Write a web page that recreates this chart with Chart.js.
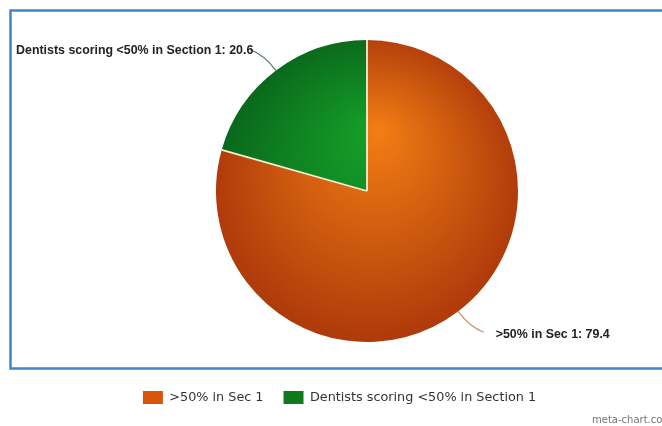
<!DOCTYPE html>
<html>
<head>
<meta charset="utf-8">
<script src="https://cdn.jsdelivr.net/npm/chart.js@4.4.1/dist/chart.umd.min.js"></script>
<style>
  html, body { margin: 0; padding: 0; background: #fff; }
  #wrap { position: relative; width: 662px; height: 426px; }
</style>
</head>
<body>
<div id="wrap"><canvas id="pieChart"></canvas></div>
<script>
// Chart data
const categories = ['>50% in Sec 1', 'Dentists scoring <50% in Section 1'];
const values = [79.4, 20.6];
const sliceLabels = ['>50% in Sec 1: 79.4', 'Dentists scoring <50% in Section 1: 20.6'];

// inner / outer gradient colour per slice
const gradientStops = [
    ['#f27e14', '#a9340a'],
    ['#16a228', '#08601a']
];
const legendColors = ['#d8560c', '#0d7a1b'];
const leaderColors = ['#c98f6c', '#4f7358'];

function sliceColor(ctx) {
    const chart = ctx.chart;
    const area = chart.chartArea;
    const i = ctx.dataIndex;
    if (!area) return legendColors[i];
    const cx = (area.left + area.right) / 2;
    const cy = (area.top + area.bottom) / 2;
    const r = Math.min(area.right - area.left, area.bottom - area.top) / 2;
    const g = chart.ctx.createRadialGradient(cx + 12, cy - 62, 0, cx, cy, r * 1.12);
    g.addColorStop(0, gradientStops[i][0]);
    g.addColorStop(1, gradientStops[i][1]);
    return g;
}

// frame, slice separators, leader lines and outside labels
const decorPlugin = {
    id: 'decor',
    beforeDraw(chart) {
        const c = chart.ctx;
        c.save();
        c.strokeStyle = '#3f86c8';
        c.lineWidth = 2.5;
        c.strokeRect(10.5, 10.5, 680, 358);
        c.restore();
    },
    afterDatasetsDraw(chart) {
        const c = chart.ctx;
        const meta = chart.getDatasetMeta(0);
        c.save();
        // separators between slices only (no outline round the pie)
        c.strokeStyle = '#f3efd6';
        c.lineWidth = 1.8;
        meta.data.forEach(arc => {
            const p = arc.getProps(['x', 'y', 'startAngle', 'outerRadius'], true);
            c.beginPath();
            c.moveTo(p.x, p.y);
            c.lineTo(p.x + Math.cos(p.startAngle) * p.outerRadius, p.y + Math.sin(p.startAngle) * p.outerRadius);
            c.stroke();
        });

        c.font = 'bold 12.4px "Liberation Sans", Arial, sans-serif';
        c.fillStyle = '#222';
        c.textBaseline = 'middle';
        meta.data.forEach((arc, i) => {
            const p = arc.getProps(['x', 'y', 'startAngle', 'endAngle', 'outerRadius'], true);
            const mid = (p.startAngle + p.endAngle) / 2;
            const ux = Math.cos(mid), uy = Math.sin(mid);
            const side = ux >= 0 ? 1 : -1;
            const x0 = p.x + ux * p.outerRadius, y0 = p.y + uy * p.outerRadius;
            const x1 = x0 + ux * 20, y1 = y0 + uy * 20;
            const x2 = x0 + ux * 26 + side * 10, y2 = y0 + uy * 26;
            c.strokeStyle = leaderColors[i];
            c.lineWidth = 1.2;
            c.beginPath();
            c.moveTo(x0, y0);
            c.quadraticCurveTo(x1, y1, x2, y2);
            c.stroke();
            if (side > 0) {
                c.textAlign = 'left';
                c.fillText(sliceLabels[i], x2 + 12, y2 + 2);
            } else {
                c.textAlign = 'right';
                c.fillText(sliceLabels[i], x2 + 3, y2 + 1);
            }
        });
        // watermark
        c.font = '10px "DejaVu Sans", sans-serif';
        c.fillStyle = '#777';
        c.textAlign = 'left';
        c.fillText('meta-chart.com', 592, 420);
        c.restore();
    }
};

document.addEventListener('DOMContentLoaded', function() {
    const ctx = document.getElementById('pieChart').getContext('2d');
    new Chart(ctx, {
        type: 'pie',
        data: {
            labels: categories,
            datasets: [{
                data: values,
                backgroundColor: sliceColor,
                borderWidth: 0
            }]
        },
        options: {
            responsive: true,
            maintainAspectRatio: false,
            animation: false,
            layout: {
                padding: { top: 40, bottom: 12, left: 17, right: 0 }
            },
            plugins: {
                // empty left title used only as a spacer
                title: {
                    display: true,
                    position: 'left',
                    text: '',
                    font: { size: 10 },
                    padding: { top: 21, bottom: 22 }
                },
                tooltip: { enabled: false },
                legend: {
                    position: 'bottom',
                    title: {
                        display: true,
                        text: '',
                        font: { size: 10 },
                        padding: { top: 17, bottom: 0 }
                    },
                    labels: {
                        boxWidth: 20,
                        boxHeight: 13,
                        padding: 20,
                        color: '#333',
                        font: { family: '"DejaVu Sans", sans-serif', size: 12.8 },
                        generateLabels(chart) {
                            const items = Chart.overrides.pie.plugins.legend.labels.generateLabels(chart);
                            items.forEach((item, i) => {
                                item.fillStyle = legendColors[i];
                                item.strokeStyle = legendColors[i];
                                item.lineWidth = 0;
                            });
                            return items;
                        }
                    }
                }
            }
        },
        plugins: [decorPlugin]
    });
});
</script>
</body>
</html>
